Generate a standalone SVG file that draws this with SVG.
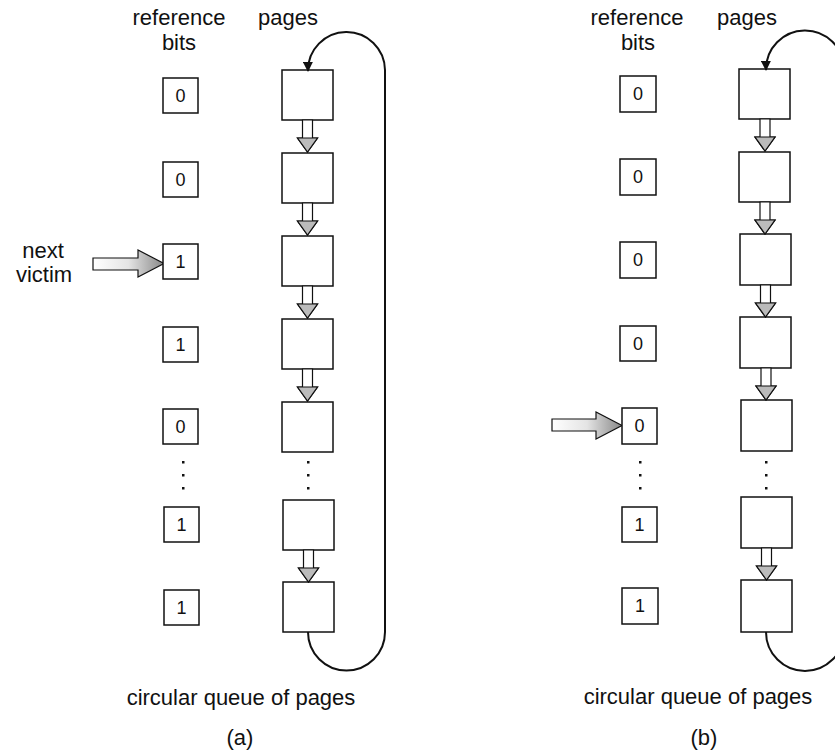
<svg xmlns="http://www.w3.org/2000/svg" width="835" height="753" viewBox="0 0 835 753">
<style>
text{font-family:"Liberation Sans",Arial,sans-serif;fill:#111}
.lbl{font-size:22px;text-anchor:middle}
.bit{font-size:18px;text-anchor:middle}
.box{fill:#fff;stroke:#111;stroke-width:1.5}
.hol{fill:#fff;stroke:#111;stroke-width:1.2}
.head{fill:#bbb;stroke:#111;stroke-width:1.2}
.loop{fill:none;stroke:#111;stroke-width:2}
.dot{fill:#111}
</style>
<defs>
<marker id="ah" viewBox="0 0 10 10" refX="9" refY="5" markerWidth="5" markerHeight="5" orient="auto" markerUnits="strokeWidth">
<path d="M0,0 L10,5 L0,10 z" fill="#111"/>
</marker>
<linearGradient id="gr" x1="0" y1="0" x2="1" y2="0">
<stop offset="0" stop-color="#fff"/>
<stop offset="0.5" stop-color="#e4e4e4"/>
<stop offset="1" stop-color="#888"/>
</linearGradient>
<g id="down">
<path d="M-5,0 L5,0 L5,18 L10,18 L0,32 L-10,18 L-5,18 Z" class="hol"/>
<path d="M-10,18 L10,18 L0,32 Z" class="head"/>
</g>
</defs>

<!-- panel (a) -->
<g id="a-headers">
<text class="lbl" x="179" y="25">reference</text>
<text class="lbl" x="179" y="50">bits</text>
<text class="lbl" x="288" y="25">pages</text>
</g>
<g id="a-next-victim">
<text class="lbl" x="43" y="258">next</text>
<text class="lbl" x="44" y="282">victim</text>
<path d="M93,258 L138,258 L138,250 L164,263.5 L138,277 L138,270 L93,270 Z" fill="url(#gr)" stroke="#111" stroke-width="1.2"/>
</g>
<g id="a-bit1"><rect class="box" x="163" y="78" width="35" height="35"/><text class="bit" x="180.5" y="102">0</text></g>
<g id="a-bit2"><rect class="box" x="163" y="162" width="35" height="35"/><text class="bit" x="180.5" y="186">0</text></g>
<g id="a-bit3"><rect class="box" x="163" y="244" width="35" height="35"/><text class="bit" x="180.5" y="268">1</text></g>
<g id="a-bit4"><rect class="box" x="163" y="327" width="35" height="35"/><text class="bit" x="180.5" y="351">1</text></g>
<g id="a-bit5"><rect class="box" x="163" y="409" width="35" height="35"/><text class="bit" x="180.5" y="433">0</text></g>
<g id="a-bit6"><rect class="box" x="164" y="507" width="35" height="35"/><text class="bit" x="181.5" y="531">1</text></g>
<g id="a-bit7"><rect class="box" x="164" y="590" width="35" height="35"/><text class="bit" x="181.5" y="614">1</text></g>
<g id="a-bitdots"><rect class="dot" x="182" y="461" width="2.5" height="2.5"/><rect class="dot" x="182" y="474" width="2.5" height="2.5"/><rect class="dot" x="182" y="487" width="2.5" height="2.5"/></g>

<g id="a-page1"><rect class="box" x="282" y="70" width="51" height="50"/></g>
<g id="a-page2"><rect class="box" x="282" y="153" width="51" height="50"/></g>
<g id="a-page3"><rect class="box" x="282" y="236" width="51" height="50"/></g>
<g id="a-page4"><rect class="box" x="282" y="319" width="51" height="50"/></g>
<g id="a-page5"><rect class="box" x="282" y="402" width="51" height="50"/></g>
<g id="a-page6"><rect class="box" x="283" y="500" width="51" height="50"/></g>
<g id="a-page7"><rect class="box" x="283" y="582" width="51" height="50"/></g>
<g id="a-pagedots"><rect class="dot" x="307" y="461" width="2.5" height="2.5"/><rect class="dot" x="307" y="474" width="2.5" height="2.5"/><rect class="dot" x="307" y="487" width="2.5" height="2.5"/></g>

<g id="a-connectors">
<use href="#down" x="307.5" y="120"/>
<use href="#down" x="307.5" y="203"/>
<use href="#down" x="307.5" y="286"/>
<use href="#down" x="307.5" y="369"/>
<use href="#down" x="308.5" y="550"/>
<path class="loop" d="M308,632 A38.5,38.5 0 0 0 385,632 L385,70 A38.5,38.5 0 0 0 308,71" marker-end="url(#ah)"/>
</g>
<g id="a-caption">
<text class="lbl" x="241" y="705">circular queue of pages</text>
<text class="lbl" x="240" y="745">(a)</text>
</g>

<!-- panel (b) -->
<g id="b-headers">
<text class="lbl" x="637" y="25">reference</text>
<text class="lbl" x="638" y="50">bits</text>
<text class="lbl" x="747" y="25">pages</text>
</g>
<g id="b-pointer">
<path d="M552,419 L596,419 L596,412 L622,425.5 L596,439 L596,431 L552,431 Z" fill="url(#gr)" stroke="#111" stroke-width="1.2"/>
</g>
<g id="b-bit1"><rect class="box" x="620" y="76" width="36" height="36"/><text class="bit" x="638" y="100">0</text></g>
<g id="b-bit2"><rect class="box" x="620" y="159" width="36" height="36"/><text class="bit" x="638" y="183">0</text></g>
<g id="b-bit3"><rect class="box" x="620" y="242" width="36" height="36"/><text class="bit" x="638" y="266">0</text></g>
<g id="b-bit4"><rect class="box" x="620" y="326" width="36" height="35"/><text class="bit" x="638" y="350">0</text></g>
<g id="b-bit5"><rect class="box" x="622" y="408" width="35" height="36"/><text class="bit" x="639.5" y="432">0</text></g>
<g id="b-bit6"><rect class="box" x="622" y="507" width="35" height="35"/><text class="bit" x="639.5" y="531">1</text></g>
<g id="b-bit7"><rect class="box" x="622" y="588" width="36" height="36"/><text class="bit" x="640" y="612">1</text></g>
<g id="b-bitdots"><rect class="dot" x="639" y="461" width="2.5" height="2.5"/><rect class="dot" x="639" y="474" width="2.5" height="2.5"/><rect class="dot" x="639" y="487" width="2.5" height="2.5"/></g>

<g id="b-page1"><rect class="box" x="739" y="69" width="51" height="50"/></g>
<g id="b-page2"><rect class="box" x="739" y="152" width="51" height="50"/></g>
<g id="b-page3"><rect class="box" x="740" y="234" width="51" height="51"/></g>
<g id="b-page4"><rect class="box" x="740" y="317" width="51" height="51"/></g>
<g id="b-page5"><rect class="box" x="741" y="400" width="51" height="51"/></g>
<g id="b-page6"><rect class="box" x="741" y="497" width="51" height="51"/></g>
<g id="b-page7"><rect class="box" x="741" y="580" width="51" height="52"/></g>
<g id="b-pagedots"><rect class="dot" x="765" y="461" width="2.5" height="2.5"/><rect class="dot" x="765" y="474" width="2.5" height="2.5"/><rect class="dot" x="765" y="487" width="2.5" height="2.5"/></g>

<g id="b-connectors">
<use href="#down" x="765" y="119"/>
<use href="#down" x="765" y="202"/>
<use href="#down" x="765.5" y="285"/>
<use href="#down" x="766" y="368"/>
<use href="#down" x="766.5" y="548"/>
<path class="loop" d="M766,632 A39,39 0 0 0 844,632 L844,69 A39,39 0 0 0 766,70" marker-end="url(#ah)"/>
</g>
<g id="b-caption">
<text class="lbl" x="698" y="704">circular queue of pages</text>
<text class="lbl" x="704" y="745">(b)</text>
</g>
</svg>
